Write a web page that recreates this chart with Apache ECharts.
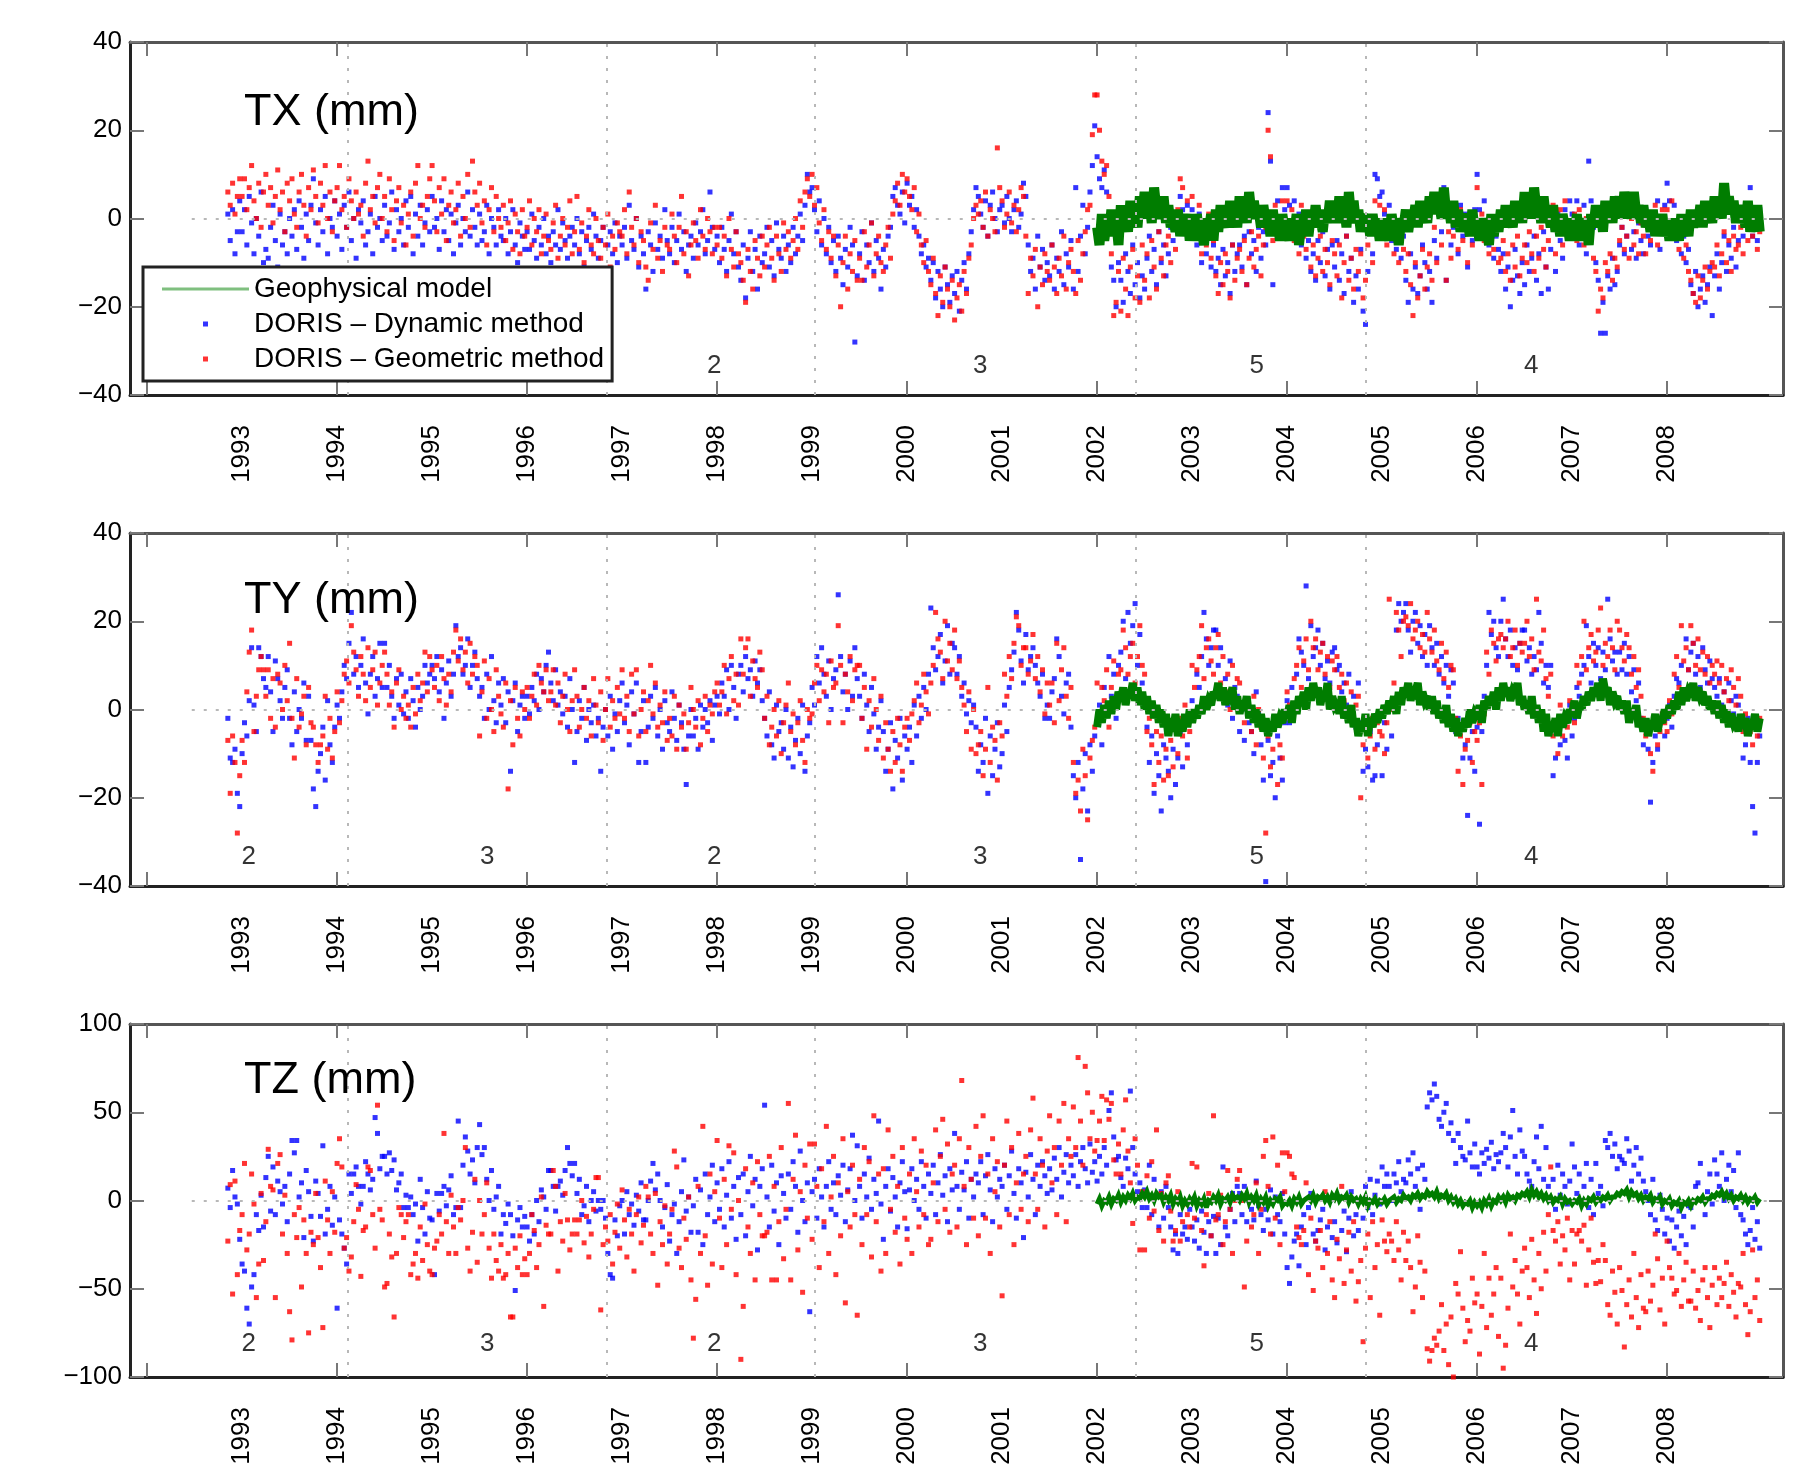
<!DOCTYPE html>
<html>
<head>
<meta charset="utf-8">
<title>Geocenter TX TY TZ - DORIS vs geophysical model</title>
<script src="https://cdn.jsdelivr.net/npm/echarts@6/dist/echarts.min.js"></script>
<style>
  html, body { margin: 0; padding: 0; background: #fff; }
  #chart { width: 1820px; height: 1477px; }
</style>
</head>
<body>
<div id="chart"></div>
<script>
// epochs of the DORIS solutions and of the model (decimal years)
const obsStart = 1992.85
const obsStep = 0.025
const modelStart = 2002.0
const modelStep = 0.025

// axis ticks and labels
const yearLabels = [1993, 1994, 1995, 1996, 1997, 1998, 1999, 2000, 2001, 2002, 2003, 2004, 2005, 2006, 2007, 2008]
const frameTicks = [1992, 1994, 1996, 1998, 2000, 2002, 2004, 2006, 2008]

// satellite constellation periods (number of satellites)
const periodBounds = [1994.11, 1996.84, 1999.03, 2002.415, 2004.83]
const periodNames = ['2', '3', '2', '3', '5', '4']
const periodCenters = [1993.07, 1995.58, 1997.97, 2000.77, 2003.68, 2006.57]
const zeroLineFrom = 1992.47
const zeroLineTo = 2009.05

// ---- TX (mm)
const txDynamic = [
  1,-5,2,-8,-3,4,
  -3,2,-6,5,-1,-8,0,-4,6,-10, -7,-9,-2,3,-5,-11,1,-6,-3,-8, 0,-4,2,-7,4,-2,-9,1,-5,3, 9,-1,-6,2,-3,5,-8,0,-2,4,
  -4,1,-7,3,-2,6,-5,0,-9,2, -1,4,-6,-3,1,-8,5,-2,0,-5, 3,-4,-1,6,-7,2,-3,0,-6,4, -2,5,-8,1,-4,3,-6,-1,2,-3,
  5,-2,0,-7,4,-3,2,-5,1,-8, -1,3,-6,0,-3,6,-4,2,-2,-6, 1,-5,-3,3,-8,0,-2,-6,2,-4, -5,0,-8,-3,2,-6,-10,-1,-4,-7,
  -3,-7,1,-5,-9,-2,-6,0,-8,-4, -10,-3,-6,2,-7,-1,-5,-9,-4,-2, -6,0,-8,-3,-11,-5,-2,-7,1,-4, -9,-5,-2,-12,-6,-3,-8,-1,-10,-4,
  -6,-2,-9,3,-5,-7,0,-11,-4,-8, -16,-3,-6,-12,-1,-7,-4,-9,2,-5, -8,-2,-10,-5,1,-7,-3,-12,-6,-4, -9,-1,-6,-3,2,-8,-5,6,-2,-7,
  -4,-10,-2,-7,-12,-5,1,-8,-3,-11, -14,-6,-18,-9,-3,-12,-7,-16,-4,-10, -8,-2,-11,-5,-13,-1,-7,-9,-4,-12, -6,-10,-2,-8,-4,1,-5,3,10,6,
  7,2,-3,4,-6,0,-8,-2,-10,-5, -12,-4,-9,-15,-7,-11,-2,-6,-28,-13, -8,-3,-14,-6,-10,-1,-12,-5,-9,-16, -7,-11,-4,-2,5,7,3,1,6,-1,
  8,3,5,-2,2,-4,-8,-6,-11,-9, -14,-10,-18,-12,-16,-20,-11,-15,-19,-13, -17,-12,-21,-14,-10,-16,-8,-3,2,7, 5,1,-2,4,-4,3,6,0,-3,2,
  3,-1,5,0,-3,2,4,-2,1,8, 5,-6,-12,-9,-16,-4,-11,-7,-14,-10, -13,-6,-16,-9,-12,-3,-15,-8,-11,-5, -16,7,-12,-4,3,-8,-2,6,12,21,
  14,9,7,11,6,-3,-11,-14,-20,-10, -14,-19,-8,-12,-17,-6,-15,-10,-18,-13, -16,-9,-4,-12,-7,-15,-3,-10,-6,-13, -8,-2,-5,1,-3,5,2,-1,3,-4,
  2,-3,-6,1,-10,-4,-8,-2,-11,-6, -12,-9,-15,-7,-13,-10,-17,-6,-12,-8, -6,-11,-4,-15,-3,-8,-5,-12,-2,-9, -3,-6,24,13,-15,0,4,-2,7,2,
  7,3,-1,4,-4,1,-6,-2,-9,-5, -12,-8,-14,-5,-10,-3,-13,-7,-16,-6, -11,-5,-14,-8,-17,-4,-12,-9,-19,-13, -16,-7,-21,-24,-12,-3,-8,10,9,5,
  6,1,-2,3,-5,0,-7,-3,-9,-4, -14,-19,-8,-16,-11,-17,-13,-6,-10,-16, -12,-19,-5,-9,1,-3,7,-14,2,-6, -2,0,-8,3,-4,1,-11,-1,-5,2,
  10,2,-3,4,-1,-6,0,-9,-4,-7, -12,-8,-16,-11,-20,-14,-7,-13,-17,-10, -15,-6,-12,-9,-4,-14,-8,-17,-3,-11, -16,-7,-2,-12,1,-5,-9,2,-3,4,
  1,-3,4,-6,-1,3,-8,13,4,-2, -10,-14,-26,-19,-26,-13,-16,-9,-15,-12, -6,-2,-8,-4,1,-7,-3,-9,-1,-5, -8,2,-4,-6,1,-2,4,-7,0,3,
  8,4,-1,3,-5,-2,-8,-4,-10,-7, -15,-17,-12,-20,-16,-13,-19,-15,-11,-22, -13,-8,-16,-10,-4,-12,-6,-9,-2,-11, -5,1,-4,3,-2,7,-4,-1,-5,2
]
const txGeometric = [
  6,3,8,1,5,9,
  5,9,2,7,12,4,0,8,-2,6, 10,3,7,-1,5,11,2,6,-3,8, 4,9,1,-2,6,10,3,-4,7,2, 11,5,-1,8,3,12,0,6,-3,4,
  7,12,2,5,-2,9,4,0,6,1, 3,-4,8,13,2,5,-1,7,10,0, 5,-3,9,2,-5,4,7,-1,3,-6, 1,6,-4,8,12,0,3,-2,5,9,
  12,4,-3,7,1,9,-5,3,6,-1, 2,8,-4,5,0,10,-2,13,6,3, 8,-1,4,-6,2,7,-3,5,0,-2, 3,-5,-1,4,-7,1,-3,-8,2,-4,
  -2,4,-6,0,-3,2,-8,-4,1,-5, -7,-1,3,-9,-4,0,-6,-2,4,-8, -3,5,-7,-1,-10,-4,2,-6,-8,0, -5,-9,-2,-6,1,-11,-4,-7,-1,-3,
  -4,2,-8,6,-2,-6,0,-10,-3,-5, -11,-14,-1,-7,3,-9,-5,-12,-2,-6, -7,1,-4,-10,-2,5,-8,-3,-13,-6, -1,-5,-9,2,-4,-7,0,-3,-8,-2,
  -6,-2,-9,-4,-13,0,-7,-11,-3,-8, -10,-14,-19,-7,-12,-16,-5,-9,-13,-4, -11,-6,-2,-9,-14,-4,-8,-12,-1,-7, -3,-9,-5,0,-7,4,-2,6,9,5,
  10,3,7,-1,-5,2,-7,-3,-9,-4, -13,-6,-20,-10,-4,-16,-8,-12,-5,-14, -9,-14,-3,-11,-6,-1,-13,-8,-4,-10, -12,-6,-2,-9,1,4,8,3,10,6,
  9,5,2,7,-3,1,-6,-10,-5,-12, -15,-9,-17,-22,-13,-19,-11,-16,-20,-14, -23,-18,-15,-21,-12,-17,-9,-6,0,3, 1,4,-2,6,-4,2,0,-3,16,7,
  4,-2,1,6,-1,3,-3,2,7,5, -4,-17,-9,-13,-7,-20,-11,-15,-8,-12, -14,-6,-11,-17,-9,-13,-4,-16,-10,-7, -12,-17,-5,-14,-8,-3,2,3,19,28,
  28,20,13,10,12,5,-8,-22,-19,-12, -21,-9,-16,-22,-11,-7,-18,-13,-19,-6, -14,-8,-18,-5,-11,-16,-3,-9,-13,-6, -4,-10,-1,-7,2,9,7,-1,4,-3,
  5,-1,-4,3,-8,-2,-6,1,-9,-5, -13,-17,-10,-15,-8,-12,-18,-6,-14,-9, -7,-12,-5,-15,-9,-3,-11,-7,-4,-13, -6,-2,20,14,-5,3,-3,-1,4,0,
  4,-2,2,-5,-1,-8,3,-4,-7,-3, -11,-6,-13,-9,-4,-12,-7,-10,-15,-5, -8,-13,-6,-18,-10,-4,-14,-9,-16,-7, -12,-8,-18,-14,-6,-2,-10,4,-1,3,
  -3,2,-6,0,-4,-8,-2,-10,-5,-7, -12,-8,-15,-22,-10,-18,-13,-7,-16,-11, -8,-14,-2,-10,2,-6,6,-14,-3,-9, -4,-1,-7,2,-5,0,-10,-3,-6,1,
  7,-2,1,-5,-1,-8,-4,-7,-2,-10, -9,-5,-12,-8,-14,-6,-11,-4,-13,-9, -6,-10,-3,-8,-12,-4,-9,-2,-7,-11, -5,-1,3,-8,-3,2,-6,4,-2,-4,
  -3,1,-5,2,-2,-6,0,-4,-1,-9, -12,-21,-16,-18,-10,-12,-8,-14,-9,-11, -5,-2,-7,-4,-9,0,-6,-3,-8,-1, -4,-8,1,-5,-2,3,-6,-1,2,-3,
  2,-2,4,-4,-1,-7,-3,-9,-6,-12, -14,-17,-19,-13,-18,-14,-11,-16,-12,-10, -11,-6,-13,-8,-3,-10,-5,-12,-4,-7, -6,-2,-8,0,-5,-2,-4,1,-7,-3
]
const txModel = [
  -2,-6,1,-5,-1,-4,2,-3,0,-6, 3,-2,1,-3,4,-1,2,-2,5,0, 6,1,4,-1,7,2,3,0,5,-1, 3,-2,1,-3,2,-4,0,-2,1,-5,
  -1,-5,1,-4,-2,-6,0,-3,1,-5, 2,-3,3,-1,0,-2,4,-1,2,-2, 5,0,3,-1,6,1,4,0,2,-2, 3,-1,0,-4,2,-3,-1,-5,1,-3,
  -2,-5,0,-4,1,-6,-1,-3,2,-4, 1,-2,3,-2,0,-3,2,-1,4,-1, 4,-1,5,1,3,-2,6,0,4,-1, 2,-3,1,-2,0,-4,1,-3,-1,-5,
  0,-4,-2,-5,1,-3,-1,-6,0,-2, 2,-3,1,-1,3,-2,4,0,2,-1, 5,1,6,2,4,0,7,1,3,-1, 4,-2,2,-3,1,-1,-1,-4,2,-3,
  -1,-5,0,-3,-2,-6,1,-4,0,-3, 2,-2,3,-1,1,-2,4,0,3,-1, 6,1,5,0,7,2,4,-1,5,0, 2,-2,3,-3,0,-4,1,-2,-1,-5,
  0,-4,1,-5,-1,-3,0,-6,1,-2, 3,-1,2,-3,4,0,3,-1,5,1, 5,0,6,2,4,0,6,1,3,-1, 3,-2,1,-3,2,-4,0,-3,1,-4,
  -1,-5,0,-4,-2,-5,1,-3,-1,-4, 2,-2,1,-1,3,-2,4,0,2,-1, 5,1,4,0,8,2,5,1,4,-1, 3,-1,2,-2,4,-3,1,-2,3,-3
]

// ---- TY (mm)
const tyDynamic = [
  -2,-11,-12,-9,-19,-22,
  -10,-3,-6,2,14,1,-5,14,12,7, 5,12,4,-5,11,7,2,-2,5,9, -2,-8,4,-5,0,-2,6,-7,3,-7, -18,-22,-14,-10,-4,-16,2,-8,-12,-4,
  1,-2,4,10,7,15,22,8,12,5, 10,16,6,-1,8,12,3,7,15,5, 15,5,10,3,-2,7,1,8,-1,4, -2,7,2,-4,5,0,3,10,6,8,
  10,7,12,4,9,-2,6,11,3,8, 19,12,14,8,10,16,5,10,13,7, 3,5,-2,8,0,12,2,-3,6,1, 7,-3,4,-14,2,6,-5,1,3,-2,
  3,-1,5,2,8,0,7,4,10,13, 6,2,9,1,4,-1,3,-4,7,0, -12,-5,2,-2,5,-7,0,-3,1,-6, -2,-14,-4,0,-6,3,-9,-1,-5,2,
  6,-3,1,-8,4,-1,6,-12,-5,2, -12,-4,3,-2,5,-6,0,-9,2,-3, -5,4,-2,-7,1,-3,-9,-17,-6,0, -6,-2,-9,1,-4,0,-3,2,-7,1,
  3,-1,6,3,9,0,10,5,-2,8, 10,4,12,7,9,3,11,6,9,2, -2,-6,4,-8,-11,1,-5,-3,-9,0, -11,-4,-13,-7,-2,-10,1,-14,-6,-3,
  5,1,12,6,14,8,3,11,0,7, 9,26,12,4,8,0,11,3,14,7, 3,-2,8,1,-5,5,-1,-9,-4,2, -5,-14,-9,-3,-18,-7,-11,-2,-16,-6,
  -9,-4,-12,1,-6,3,-2,5,0,8, 23,14,9,12,17,6,11,19,8,15, 14,8,12,3,6,-1,2,-3,1,-4, -14,-8,-12,-2,-19,-6,-15,-9,-3,-13,
  -10,1,-5,5,9,13,22,18,11,6, 17,9,12,14,10,6,3,8,-2,1, -2,4,7,16,12,3,-1,6,8,-4, -15,-20,-12,-34,-18,-10,-23,-8,-14,-6,
  -3,1,-8,5,0,12,3,8,-2,10, 13,20,7,22,15,19,24,10,17,6, 1,-4,-12,-6,-19,-10,-15,-23,-8,-11, -14,-20,-9,-17,-11,-5,-13,-3,-8,-2,
  2,-1,8,5,12,22,16,10,14,18, 18,10,14,3,7,1,11,-2,5,3, -5,0,-7,2,-3,-5,-10,4,-1,-8, -16,-39,-7,-15,-12,-20,-6,-11,-16,-3,
  2,-3,5,1,8,16,13,10,28,7, 19,12,14,18,10,15,7,11,6,13, 14,9,10,4,6,1,8,-2,3,-4, 6,-3,-14,-9,-13,-5,-16,-15,-8,-2,
  -15,-3,-9,1,-6,2,18,24,20,22, 24,18,13,20,22,15,19,12,17,10, 19,14,10,15,8,12,6,10,3,9, 6,-5,-2,-4,-11,-8,-24,-11,-5,-14,
  -4,-26,-5,3,10,22,17,20,14,12, 20,25,16,12,18,10,14,9,15,18, 18,11,14,8,12,9,22,15,6,10, 5,10,-15,-11,-4,-8,-2,-7,-11,1,
  -6,-2,5,3,8,10,19,12,6,15, 10,14,7,13,9,25,16,11,13,8, 13,9,15,8,12,4,9,2,6,-2, -8,-4,-9,-21,-12,-6,-9,-3,-1,-6,
  -2,1,-4,3,7,6,10,4,16,9, 13,15,8,12,5,14,9,6,11,7, 5,3,7,1,4,-2,6,2,-1,3, 1,-4,-11,-8,-2,-12,-22,-28,-12,-6
]
const tyGeometric = [
  -7,-19,-6,-12,-28,-15,
  -7,-12,4,13,18,-5,3,9,12,9, 3,9,-2,7,-4,8,6,0,10,2, 15,-2,-11,7,-4,-1,3,-8,5,-3, -4,-8,-12,-8,-6,3,-9,-2,-11,-5,
  4,-3,2,8,11,6,19,13,9,3, 12,8,2,14,5,9,13,1,6,10, 13,8,1,4,-4,6,9,0,3,-2, 1,-4,5,-1,8,2,6,13,4,12,
  9,5,10,2,12,7,1,8,4,13, 18,11,16,9,13,6,15,8,12,10, -6,4,11,-2,7,0,-5,9,3,-1, -4,6,-18,2,-8,5,-2,-6,4,0,
  5,-2,3,8,1,10,6,4,9,2, 4,9,1,6,-3,3,8,0,-5,2, 9,3,-4,0,5,-2,2,-6,7,1, -3,4,-7,0,7,-4,2,-2,5,-1,
  9,-2,3,-5,8,-1,9,-6,0,4, -5,2,10,-1,6,-4,1,-3,4,-7, -2,-6,3,-9,1,-4,-1,-9,-3,5, 0,-4,2,-8,-2,3,-5,1,-1,4,
  6,1,4,10,-1,7,12,2,8,1, 16,8,14,16,3,11,7,5,13,9, -2,3,-8,-4,0,-6,2,-10,-3,1, 6,-5,-1,-8,-3,2,-7,-12,0,-2,
  -1,6,10,2,9,4,8,-3,11,5, 6,19,10,-3,8,4,12,2,9,10, 10,-2,5,-9,2,-4,7,0,-7,3, -11,-3,-9,-14,-5,-12,-2,-8,-14,-4,
  -2,-7,-1,2,6,-3,1,8,4,-1, 6,10,22,16,13,7,20,11,15,9, 18,7,11,5,1,-5,4,-9,0,-10, -8,-5,-15,-9,5,-12,-4,-7,-16,-3,
  -6,8,3,12,7,15,21,19,10,14, 14,8,11,17,7,12,4,9,-1,6, 1,6,-3,15,2,9,14,3,-2,5, -12,-19,-16,-23,-9,-15,-25,-11,-7,-4,
  6,-1,5,2,9,-4,5,11,1,8, 9,18,14,8,12,15,6,12,19,10, 8,-5,-2,-8,-17,-5,-12,-6,-16,-9, -15,-7,-13,-4,-10,-2,-6,1,-11,-5,
  10,5,9,12,19,7,14,16,11,8, 14,17,6,12,4,8,0,10,2,7, 6,1,-3,2,-1,-5,3,-8,0,-4, -11,-28,-6,-13,-9,-3,-17,-8,-11,-2,
  4,1,-2,7,10,14,5,11,16,9, 20,14,16,9,13,15,8,12,5,11, 9,12,5,8,2,6,-1,4,-3,1, 3,-20,-8,-4,-11,-6,-2,-9,-3,-5,
  -6,-10,-3,25,0,6,22,18,12,20, 21,19,24,16,18,20,14,17,13,22, 16,13,18,11,9,15,7,13,5,10, 9,-2,-14,-6,-17,-9,-7,-3,-12,-5,
  -7,-3,-17,-1,13,8,18,15,11,16, 17,14,16,20,12,14,18,10,15,13, 15,20,12,16,9,25,13,11,18,7, 3,8,-6,-3,-10,1,-6,-2,-4,2,
  1,-3,10,6,12,20,9,14,17,11, 13,18,23,10,15,12,18,14,9,20, 18,14,11,17,14,8,12,5,9,3, -2,-6,-5,-10,-14,-4,-8,-5,-1,-3,
  -5,2,-1,8,12,5,19,11,14,9, 19,15,10,16,9,13,8,12,6,10, 8,11,6,10,4,7,2,9,5,1, 7,3,-5,-1,-3,-5,-8,-3,-6,-2
]
const tyModel = [
  -4,0,-3,1,-2,2,-1,3,0,4, 2,5,1,4,3,6,2,5,1,4, 0,3,-1,2,-2,1,-3,0,-4,-1, -6,-2,-5,-1,-6,-3,-5,-1,-4,0,
  -3,0,-2,1,-1,3,0,2,1,4, 3,6,2,5,1,4,3,5,0,3, -1,2,0,3,-2,1,-3,0,-4,-1, -5,-2,-6,-3,-5,-1,-4,-2,-3,0,
  -2,1,-3,2,-1,3,1,4,0,5, 2,6,3,5,1,4,2,6,0,3, 1,2,-1,3,-2,0,-3,1,-4,-2, -6,-3,-5,-1,-6,-2,-4,-1,-3,0,
  -2,1,-1,2,0,3,-1,4,1,5, 3,6,2,5,4,6,1,4,2,3, 0,3,-1,2,-2,0,-3,1,-4,-1, -5,-2,-6,-3,-5,-2,-4,0,-3,-1,
  -2,1,-3,2,0,3,1,4,0,5, 2,6,3,5,2,4,3,6,1,3, 0,2,-1,3,-2,1,-3,0,-5,-1, -6,-3,-5,-2,-6,-1,-4,-2,-3,0,
  -1,2,-2,1,0,3,1,4,2,5, 3,6,2,7,4,5,1,4,2,3, 0,2,-1,2,-3,0,-2,1,-4,-2, -5,-2,-6,-3,-4,-1,-5,-2,-3,0,
  -2,1,-1,2,0,4,1,5,2,4, 3,6,2,5,3,4,1,3,0,2, -1,2,-2,1,-3,0,-4,-1,-3,-2, -5,-1,-4,-2,-6,-3,-4,-1,-5,-2
]

// ---- TZ (mm)
const tzDynamic = [
  7,-4,17,2,-2,-22,
  -36,-40,-61,-70,-49,-42,-8,-17,3,-15, 13,25,-6,19,-8,11,5,-2,8,-12, 15,34,27,34,2,10,-21,17,5,-9, -23,11,4,-9,31,-19,-5,8,-14,2,
  -61,-11,-19,-27,-36,15,4,15,19,8, -2,8,22,15,6,12,47,38,18,25, 25,15,27,17,23,6,10,15,-4,3, -4,2,-8,-2,-23,12,-4,-19,5,-10,
  -11,-42,4,-6,4,8,-3,6,14,-8, -4,45,-4,20,36,28,15,23,10,30, 43,26,30,12,0,17,-5,2,8,-19, -8,-13,-2,-8,-20,-51,-11,-4,-15,-9,
  -15,-23,-8,-19,0,-12,6,2,-5,17, 17,8,-6,8,11,3,17,30,21,14, 21,4,12,-8,-3,8,-12,0,5,-6, 0,-5,0,-10,-30,-42,-44,-11,-20,-3,
  0,-19,5,-8,-2,-14,3,-6,10,-11, -11,0,11,21,6,15,0,-15,-4,9, -23,-8,-2,-30,-12,5,23,-6,2,-18, -3,12,-18,6,-25,15,-8,2,20,-12,
  10,-5,18,-15,3,22,-10,8,-22,13, -8,15,-20,5,25,-3,12,-28,8,18, 54,2,-15,20,-6,10,-25,14,4,-10, 15,-5,22,8,-18,28,0,-12,10,-63,
  5,12,-10,18,2,-15,8,22,-5,10, -8,14,3,20,-12,6,18,37,0,31, 8,-10,15,2,24,-5,12,4,45,-2, -22,8,18,-6,13,2,-15,10,22,5,
  -16,6,18,0,12,-5,22,8,-10,15, 4,20,-8,10,26,3,14,-12,18,6, 38,8,-5,16,6,22,-10,12,2,15, 10,22,-8,14,26,6,-12,18,2,12,
  8,20,-5,14,28,4,-10,18,10,-21, 16,2,26,12,-8,20,8,22,14,4, 18,6,24,12,30,2,16,26,10,20, 14,26,8,22,30,18,10,32,16,22,
  11,25,15,30,20,51,61,36,23,25, 13,8,24,18,62,30,15,5,10,-4, 6,-4,20,-8,12,3,-15,5,-10,8, -4,-15,-28,-19,-30,-8,-19,-15,-22,-5,
  -15,-23,-11,-27,-6,-18,-30,-12,-20,-9, -30,-10,-25,19,-15,-20,-5,4,-12,8, 4,-8,8,-12,0,-5,-11,11,-3,-8, -17,-5,-11,6,-19,2,-8,-12,4,-19,
  -38,-47,-32,-23,-19,-37,-15,-8,-25,-4, 4,-19,-23,-17,-11,-5,-28,-15,0,-21, -12,-24,2,-17,-6,-29,-10,5,-20,-8, -17,0,-10,8,-4,12,-8,3,11,-2,
  19,8,15,8,0,15,10,22,5,12, 10,23,15,27,8,18,-5,20,12,53, 61,57,66,59,46,42,50,55,38,44, 34,21,38,30,25,23,45,27,19,32,
  19,15,27,21,29,24,33,18,26,22, 27,38,30,19,36,51,25,15,40,28, 25,15,11,8,22,36,18,42,12,30, 8,0,12,-5,20,3,15,8,-2,11,
  32,19,4,15,0,8,21,-4,12,-8, 21,4,8,-3,34,30,38,25,32,18, 25,23,21,35,28,11,20,30,15,24, 11,5,0,-8,12,-11,-17,3,-5,-19,
  -10,-23,-11,-27,-15,-6,-20,-9,-25,-3, -4,-15,8,10,21,0,-8,5,15,-2, 23,15,8,27,0,12,20,5,17,-4, 27,-8,-11,-19,-25,-17,-4,-22,-12,-27
]
const tzGeometric = [
  -23,9,-53,11,-42,-17,
  -8,21,-28,-19,15,-2,-55,-36,4,-34, -12,29,8,6,-55,21,26,-19,3,-30, -63,-79,-8,-21,-4,-49,-11,-30,-75,-18, -25,4,-21,-38,-72,11,-11,-30,5,-18,
  21,35,19,-27,-21,-40,-32,-12,9,-5, -43,-17,-15,19,17,-8,-27,54,-5,-11, -49,-47,-19,-32,-66,-30,-4,-8,-21,-12, -8,-42,-36,-30,-44,-15,-34,-2,-25,-40,
  -42,-27,-23,-8,-19,38,-12,-30,3,-15, -30,-4,-11,0,30,-27,-40,-18,12,-35, 0,-19,-8,10,-27,-44,-19,-34,-40,-25, -44,-42,-30,-66,-66,-27,-38,-20,-42,-33,
  -42,-30,-8,-17,-38,-25,2,-60,-14,-19, -19,17,8,-40,-12,-23,4,-11,-28,-19, -11,-19,-11,0,-24,-9,-32,-19,-5,13, 13,-62,-25,-15,-23,-8,-36,-18,-2,-27,
  6,-11,-32,-5,-19,-40,-8,2,-24,-14, 8,2,-19,-30,4,-48,-12,-25,-3,-36, -19,-5,28,19,-27,-38,-10,-22,2,-45, -78,-56,8,-30,42,-20,-48,15,-36,5,
  34,-10,-38,12,-25,31,-5,27,-42,0, -90,-60,18,-15,-30,10,-45,22,-8,-20, -20,-18,25,-45,8,-45,-12,30,-33,-5, 55,-45,12,37,-28,5,-52,20,-10,32,
  -22,32,8,-38,18,-12,42,-30,2,25, -42,10,-20,35,-58,5,-15,20,-8,-65, 12,-25,30,-8,22,-32,48,-12,15,-40, 18,-30,40,-5,25,-18,8,-36,30,-10,
  -22,15,-30,35,5,-15,28,-8,20,-25, -22,10,40,-12,25,46,-5,32,-18,15, 20,-15,35,68,8,-25,30,12,-10,42, -20,25,48,-10,15,-30,35,5,22,-15,
  -54,20,45,-8,30,-25,10,38,-5,15, 25,-12,40,58,15,-5,35,20,-15,28, 48,10,30,-8,45,20,55,-12,35,25, 53,30,81,45,20,76,61,35,50,28,
  34,45,59,34,57,46,55,23,15,32, 15,40,57,28,10,-13,35,20,-28,5, -28,14,-10,22,-6,40,-17,4,-23,10, 14,-6,-23,-17,5,-23,-12,-2,-8,-15,
  21,-10,19,0,-17,-37,-8,4,-20,48, -11,-8,3,-25,-12,17,-5,-30,0,12, 17,0,-49,-23,2,-15,-8,10,-30,-5, 25,34,8,-19,36,-10,20,-25,27,5,
  27,25,15,13,-15,-21,-25,-17,10,-42, -10,-51,-23,-27,-17,-38,5,-30,-12,-45, -55,-22,-33,8,-47,-28,-18,-40,-12,-57, -46,-34,-80,-27,-19,-55,-12,-38,-25,-65,
  -11,-23,-29,-19,-23,-34,-12,-28,-45,-18, -34,-23,-38,-63,-49,-20,-35,-55,-40,-84, -91,-85,-78,-82,-74,-59,-85,-70,-93,-66, -100,-47,-53,-29,-61,-80,-68,-74,-44,-58,
  -53,-87,-60,-30,-72,-44,-65,-53,-38,-77, -44,-95,-82,-61,-19,-49,-34,-53,-70,-40, -27,-38,-55,-22,-45,-64,-30,-50,-18,-40, -8,19,-17,-23,-12,-36,-20,-28,-10,-45,
  -17,-36,-19,-17,-23,-14,-48,-28,-10,-35, -47,-34,-46,-25,-34,-59,-65,-40,-52,-70, -38,-51,-83,-59,-45,-66,-30,-55,-72,-42, -61,-63,-40,-57,-48,-19,-33,-62,-44,-70,
  -23,-38,-44,-53,-51,-30,-60,-45,-35,-57, -57,-40,-61,-51,-68,-45,-38,-55,-72,-48, -38,-59,-44,-55,-47,-35,-60,-42,-52,-66, -47,-49,-30,-59,-76,-63,-28,-55,-45,-68
]
const tzModel = [
  -2,1,-3,0,-1,2,-2,1,0,3, -1,2,0,3,1,4,0,2,1,4, 2,5,1,3,0,4,2,3,-1,2, 0,3,-2,1,-1,2,-3,0,-2,1,
  -1,2,-3,0,-2,1,-4,0,-1,2, 0,3,-2,1,0,2,-1,3,1,2, 0,3,1,4,-1,2,0,3,-2,1, -1,2,-3,0,-2,1,0,2,-3,-1,
  -2,0,-3,1,-1,2,-2,0,1,2, 0,3,-1,2,1,3,0,2,-1,3, 1,4,0,2,1,3,-1,2,0,1, -2,1,-1,2,-3,0,-1,1,-2,0,
  -1,1,-2,0,1,2,-1,1,0,3, 1,2,0,3,2,4,1,3,2,5, 3,4,2,5,1,3,2,4,0,2, -1,1,-2,0,-3,-1,-2,0,-4,-1,
  -3,-1,-4,0,-2,1,-3,0,-1,2, 0,2,-1,3,1,2,0,3,2,4, 3,5,2,6,3,5,2,4,1,3, 0,2,-1,1,0,2,-2,1,-1,0,
  -2,0,-1,1,-3,0,-2,1,0,2, -1,1,0,2,1,3,0,2,2,4, 3,5,4,6,2,5,3,4,1,3, 0,2,1,3,-1,1,0,2,-2,0,
  -1,1,-3,-1,-2,0,-4,-1,-2,0, -3,0,-1,1,0,2,-1,1,1,3, 2,4,3,5,2,4,1,3,0,2, 1,3,0,2,-1,1,0,2,-1,1
]

const NAME_MODEL = 'Geophysical model'
const NAME_DYN = 'DORIS \u2013 Dynamic method'
const NAME_GEO = 'DORIS \u2013 Geometric method'

const xMin = 1991.82
const xMax = 2009.22

function toPoints(values, start, step) {
  return values.map((v, i) => [Math.round((start + i * step) * 1000) / 1000, v])
}

function minusFmt(v) {
  return v < 0 ? '\u2212' + Math.abs(v) : String(v)
}

const panels = [
  { title: 'TX (mm)', top: 42, titleTop: 85, min: -40, max: 40, step: 20, labelY: -33.5, band: 10, dyn: txDynamic, geo: txGeometric, model: txModel },
  { title: 'TY (mm)', top: 533, titleTop: 573, min: -40, max: 40, step: 20, labelY: -33.5, band: 8, dyn: tyDynamic, geo: tyGeometric, model: tyModel },
  { title: 'TZ (mm)', top: 1024, titleTop: 1053, min: -100, max: 100, step: 50, labelY: -81, band: 5, dyn: tzDynamic, geo: tzGeometric, model: tzModel },
]

const tickStyle = { color: '#777', width: 2 }
const grid = []
const xAxis = []
const yAxis = []
const series = []
const title = []

panels.forEach((p, i) => {
  grid.push({ left: 130, width: 1653, top: p.top, height: 353 })
  title.push({
    text: p.title, left: 239, top: p.titleTop,
    textStyle: { fontSize: 45, fontWeight: 'normal', color: '#000' },
  })
  // bottom axis: year labels, ticks every two years
  xAxis.push({
    gridIndex: i, type: 'value', position: 'bottom', min: xMin, max: xMax,
    axisLine: { show: true, onZero: false, lineStyle: { color: '#222', width: 3 } },
    axisTick: { show: true, inside: true, length: 14, customValues: frameTicks, lineStyle: tickStyle },
    axisLabel: {
      show: true, customValues: yearLabels, rotate: 90, margin: 30,
      fontSize: 26, color: '#000', formatter: (v) => String(Math.round(v)),
    },
    splitLine: { show: false },
  })
  // top axis: frame + ticks only
  xAxis.push({
    gridIndex: i, type: 'value', position: 'top', min: xMin, max: xMax,
    axisLine: { show: true, onZero: false, lineStyle: { color: '#555', width: 3 } },
    axisTick: { show: true, inside: true, length: 14, customValues: frameTicks, lineStyle: tickStyle },
    axisLabel: { show: false },
    splitLine: { show: false },
  })
  yAxis.push({
    gridIndex: i, type: 'value', position: 'left', min: p.min, max: p.max, interval: p.step,
    axisLine: { show: true, onZero: false, lineStyle: { color: '#222', width: 3 } },
    axisTick: { show: true, inside: true, length: 14, lineStyle: tickStyle },
    axisLabel: { show: true, margin: 8, fontSize: 26, color: '#000', formatter: minusFmt },
    splitLine: { show: false },
  })
  yAxis.push({
    gridIndex: i, type: 'value', position: 'right', min: p.min, max: p.max, interval: p.step,
    axisLine: { show: true, onZero: false, lineStyle: { color: '#555', width: 3 } },
    axisTick: { show: true, inside: true, length: 14, lineStyle: tickStyle },
    axisLabel: { show: false },
    splitLine: { show: false },
  })

  const xi = i * 2
  const yi = i * 2

  // period numbers + dotted period boundaries + dotted zero line
  series.push({
    type: 'scatter', xAxisIndex: xi, yAxisIndex: yi, silent: true,
    symbolSize: 1, itemStyle: { color: 'rgba(0,0,0,0)' },
    data: periodCenters.map((x, k) => ({ name: periodNames[k], value: [x, p.labelY] })),
    label: { show: true, position: 'inside', formatter: '{b}', fontSize: 26, color: '#000' },
    markLine: {
      silent: true, symbol: ['none', 'none'], animation: false,
      label: { show: false },
      lineStyle: { color: '#b8b8b8', type: [3, 9], width: 2 },
      data: periodBounds.map((x) => ({ xAxis: x })).concat([
        [{ coord: [zeroLineFrom, 0] }, { coord: [zeroLineTo, 0] }],
      ]),
    },
  })
  // the model is a dense noisy daily series: drawn as a thick zigzag band
  series.push({
    name: NAME_MODEL, type: 'line', xAxisIndex: xi, yAxisIndex: yi, silent: true,
    symbol: 'none', data: toPoints(p.model, modelStart, modelStep),
    lineStyle: { color: '#007d00', width: p.band, join: 'miter', miterLimit: 3 },
    itemStyle: { color: '#007d00' },
  })
  series.push({
    name: NAME_DYN, type: 'scatter', xAxisIndex: xi, yAxisIndex: yi, silent: true,
    symbol: 'rect', symbolSize: 5, data: toPoints(p.dyn, obsStart, obsStep),
    itemStyle: { color: '#0000ff' },
  })
  series.push({
    name: NAME_GEO, type: 'scatter', xAxisIndex: xi, yAxisIndex: yi, silent: true,
    symbol: 'rect', symbolSize: 5, data: toPoints(p.geo, obsStart, obsStep),
    itemStyle: { color: '#ff0000' },
  })
})

const chart = echarts.init(document.getElementById('chart'))
chart.setOption({
  animation: false,
  backgroundColor: '#fff',
  textStyle: { fontFamily: 'Liberation Sans, Arial, sans-serif' },
  title: title,
  legend: {
    left: 143, top: 267, orient: 'vertical', align: 'left',
    backgroundColor: '#fff', borderColor: '#222', borderWidth: 3, borderRadius: 0,
    padding: [8, 8, 8, 19], itemGap: 7, itemWidth: 87, itemHeight: 5,
    selectedMode: false, z: 10,
    textStyle: { fontSize: 28, color: '#000' },
    data: [
      { name: NAME_MODEL, icon: 'path://M0,0H87V3H0Z', itemStyle: { color: '#7fbf7f', borderWidth: 0 } },
      { name: NAME_DYN, icon: 'path://M0,0H1V1H0Z', itemStyle: { borderWidth: 0 } },
      { name: NAME_GEO, icon: 'path://M0,0H1V1H0Z', itemStyle: { borderWidth: 0 } },
    ],
  },
  grid: grid,
  xAxis: xAxis,
  yAxis: yAxis,
  series: series,
})

window.onresize = () => chart.resize()
</script>
</body>
</html>
